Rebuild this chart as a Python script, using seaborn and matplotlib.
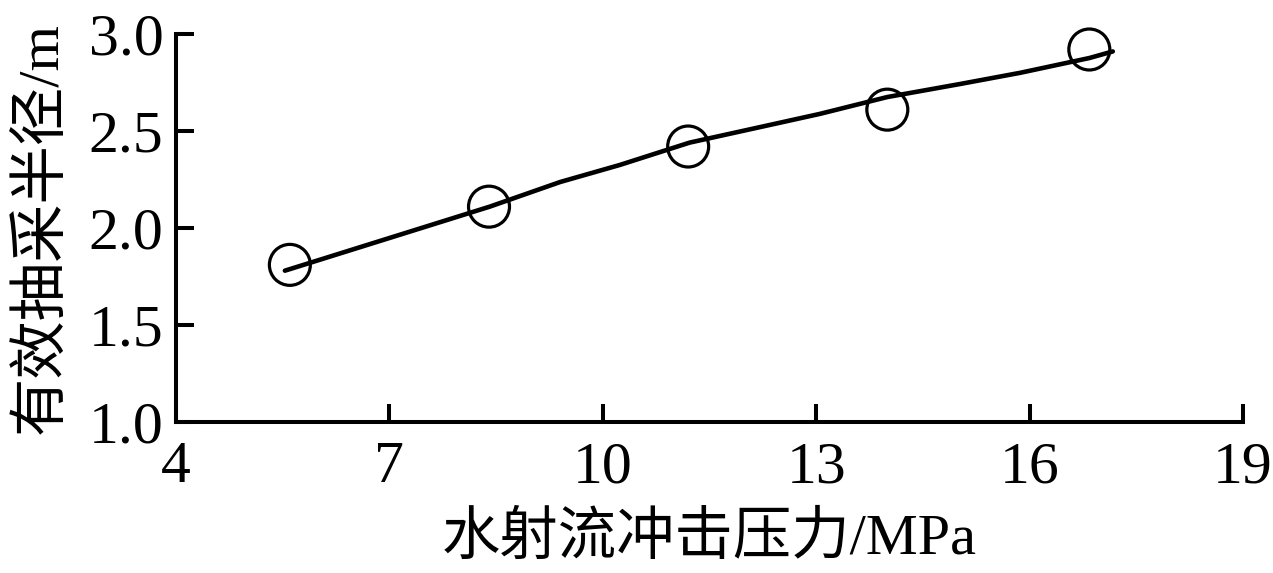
import matplotlib
matplotlib.use('Agg')
import matplotlib.pyplot as plt
import seaborn as sns
import pandas as pd

# measured points
pressure = [5.6, 8.4, 11.2, 14.0, 16.84]
radius = [1.81, 2.11, 2.42, 2.61, 2.92]

# fitted curve
fit_x = [5.53, 8.41, 9.40, 10.24, 11.22, 12.21, 13.05, 14.0, 15.02, 15.87, 16.84, 17.17]
fit_y = [1.78, 2.11, 2.237, 2.325, 2.44, 2.52, 2.588, 2.675, 2.742, 2.80, 2.876, 2.91]

xticks = [4, 7, 10, 13, 16, 19]
yticks = [1.0, 1.5, 2.0, 2.5, 3.0]

sns.set_style('ticks')
plt.rcParams['font.family'] = ['Liberation Serif', 'Noto Sans CJK SC']
plt.rcParams['text.color'] = 'black'
plt.rcParams['axes.labelcolor'] = 'black'

fig = plt.figure(figsize=(12.73, 5.73), dpi=100)
ax = fig.add_axes([0.1383, 0.2635, 0.8381, 0.6772])

pts = pd.DataFrame({'x': pressure, 'y': radius})
fit = pd.DataFrame({'x': fit_x, 'y': fit_y})

sns.scatterplot(data=pts, x='x', y='y', ax=ax, marker='o', s=870,
                edgecolor='black', linewidth=2.3, zorder=3, legend=False,
                clip_on=False)
ax.collections[-1].set_facecolor('none')
sns.lineplot(data=fit, x='x', y='y', ax=ax, color='black', linewidth=3.3,
             sort=False, zorder=4, clip_on=False)

ax.set_xlim(4, 19)
ax.set_ylim(1.0, 3.0)
ax.set_xticks(xticks)
ax.set_yticks(yticks)
ax.set_yticklabels([f'{v:.1f}' for v in yticks])
ax.tick_params(direction='in', length=13, width=2.9, labelsize=43,
               colors='black')
ax.tick_params(axis='x', pad=14)
ax.tick_params(axis='y', pad=9)

for side in ['top', 'right']:
    ax.spines[side].set_visible(False)
for side in ['left', 'bottom']:
    ax.spines[side].set_linewidth(2.9)
    ax.spines[side].set_color('black')

ax.set_xlabel('水射流冲击压力/MPa', fontsize=42, labelpad=12, color='black')
ax.set_ylabel('有效抽采半径/m', fontsize=42, labelpad=14, color='black')

fig.savefig('out.png', dpi=100)
